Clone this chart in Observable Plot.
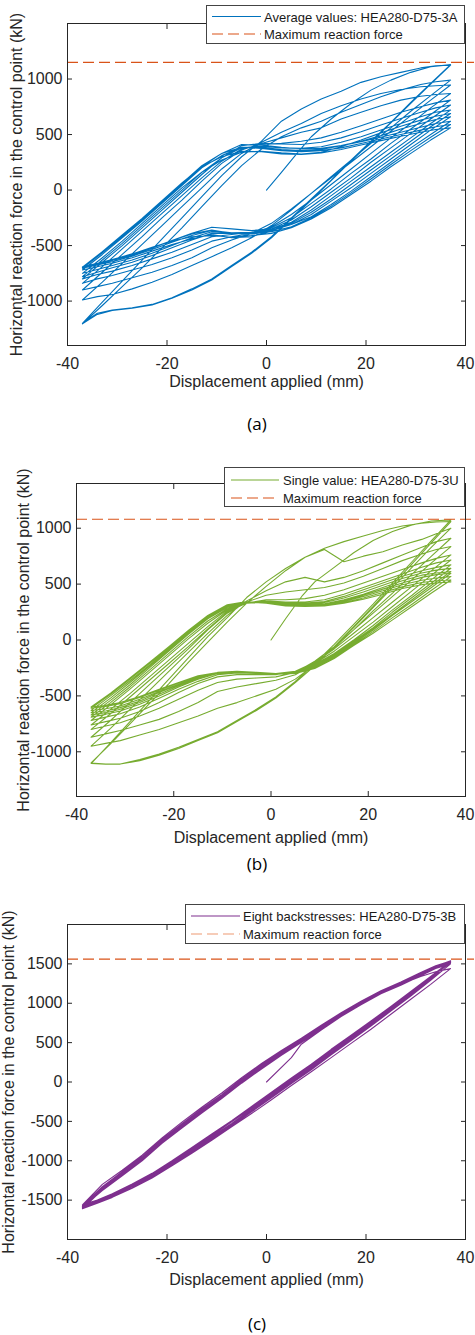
<!DOCTYPE html>
<html><head><meta charset="utf-8">
<script src="https://cdn.jsdelivr.net/npm/d3@7"></script>
<script src="https://cdn.jsdelivr.net/npm/@observablehq/plot@0.6"></script>
<style>
body{margin:0;background:#fff;}
#fig{position:relative;width:475px;height:1335px;overflow:hidden;background:#fff;}
.panel{position:absolute;left:0;}
.legend{position:absolute;background:#fff;border:1px solid #444;box-sizing:border-box;font:13px "Liberation Sans",Arial,sans-serif;color:#1a1a1a;}
.legend span{position:absolute;white-space:nowrap;transform:translateY(-50%);}
.legend svg{position:absolute;left:0;top:0;}
.cap{position:absolute;font:17px "Open Sans",sans-serif;color:#000;transform:translate(-50%,-50%);white-space:nowrap;}
</style></head><body><div id="fig"></div>
<script>
// ---------------- shared tick / axis data ----------------
const xTicks = [-40, -20, 0, 20, 40];
const yTicksAB = [-1000, -500, 0, 500, 1000];
const yTicksC = [-1500, -1000, -500, 0, 500, 1000, 1500];
const xLabel = "Displacement applied (mm)";
const yLabel = "Horizontal reaction force in the control point (kN)";
const maxLabel = "Maximum reaction force";

// displacement stations of loading (increasing) and unloading (decreasing) branches
const xUp = [-37, -33, -29, -25, -21, -17, -13, -9, -5, -1, 3, 7, 11, 15, 19, 23, 27, 31, 34, 37];
const xDown = [37, 33, 29, 25, 21, 17, 13, 9, 5, 1, -3, -7, -11, -15, -19, -23, -27, -31, -34, -37];

// ---------------- (a) Average values: HEA280-D75-3A ----------------
const aName = "Average values: HEA280-D75-3A";
const aMax = 1150;
const aStartX = [0, 3, 6.5, 9, 13, 17, 21, 25, 29, 33, 37];
const aStartY = [0, 160, 350, 480, 640, 780, 900, 990, 1060, 1110, 1130];
const aDown = [
  [1130, 960, 790, 610, 440, 270, 90, -80, -250, -420, -560, -680, -800, -890, -970, -1030, -1060, -1080, -1110, -1200],
  [1125, 955, 780, 605, 430, 260, 85, -90, -260, -430, -570, -690, -810, -900, -975, -1035, -1065, -1085, -1120, -1205],
  [990, 850, 710, 560, 420, 270, 120, -30, -180, -320, -430, -520, -600, -680, -760, -830, -890, -940, -960, -990],
  [946, 810, 670, 530, 390, 250, 110, -30, -170, -300, -390, -450, -520, -610, -680, -740, -790, -840, -870, -900],
  [870, 740, 600, 470, 330, 190, 50, -90, -220, -330, -390, -420, -460, -540, -610, -670, -720, -770, -800, -840],
  [810, 680, 550, 420, 280, 150, 10, -120, -250, -340, -380, -400, -420, -490, -560, -620, -680, -730, -760, -800],
  [766, 640, 510, 380, 250, 110, -20, -150, -270, -350, -380, -390, -390, -450, -520, -590, -650, -700, -740, -780],
  [720, 600, 470, 340, 210, 80, -50, -180, -290, -355, -380, -385, -375, -430, -500, -570, -630, -680, -715, -750],
  [690, 570, 440, 310, 180, 50, -80, -200, -300, -370, -420, -430, -400, -440, -490, -550, -610, -660, -690, -720],
  [660, 540, 410, 280, 150, 20, -100, -220, -310, -365, -390, -385, -365, -410, -470, -535, -595, -645, -675, -705],
  [620, 500, 380, 250, 120, -10, -130, -240, -310, -350, -365, -350, -335, -390, -455, -525, -585, -635, -670, -700],
  [590, 475, 355, 230, 100, -25, -145, -250, -330, -375, -395, -390, -360, -395, -455, -520, -580, -630, -665, -695],
  [560, 450, 330, 210, 80, -40, -160, -260, -340, -390, -410, -425, -410, -420, -460, -515, -575, -625, -660, -690]
];
const aUp = [
  [-1200, -1010, -820, -630, -440, -250, -60, 130, 300, 440, 620, 730, 820, 890, 970, 1020, 1060, 1100, 1120, 1125],
  [-1205, -1040, -870, -700, -520, -340, -150, 40, 220, 370, 480, 560, 620, 700, 770, 840, 900, 950, 975, 990],
  [-990, -830, -660, -490, -320, -150, 20, 190, 330, 430, 520, 600, 690, 760, 820, 870, 905, 930, 940, 946],
  [-900, -740, -580, -420, -250, -90, 80, 240, 360, 420, 470, 520, 560, 640, 700, 760, 810, 845, 860, 870],
  [-840, -690, -530, -370, -210, -50, 110, 260, 370, 410, 420, 440, 470, 520, 580, 640, 700, 750, 785, 810],
  [-800, -650, -500, -340, -180, -20, 140, 290, 400, 420, 415, 410, 430, 470, 525, 585, 645, 700, 740, 766],
  [-780, -630, -480, -320, -160, 0, 160, 290, 380, 395, 380, 375, 390, 430, 480, 540, 600, 660, 700, 720],
  [-750, -610, -460, -300, -140, 20, 160, 270, 340, 350, 335, 325, 340, 390, 450, 515, 575, 630, 665, 690],
  [-720, -580, -430, -280, -120, 40, 200, 310, 385, 385, 365, 355, 365, 400, 440, 490, 550, 600, 635, 660],
  [-705, -565, -420, -270, -110, 50, 210, 330, 410, 405, 385, 370, 375, 400, 435, 475, 520, 565, 600, 620],
  [-700, -560, -410, -260, -100, 60, 220, 330, 385, 375, 355, 345, 355, 380, 420, 460, 500, 540, 570, 590],
  [-695, -555, -405, -255, -95, 65, 210, 300, 350, 345, 325, 320, 335, 365, 405, 445, 485, 520, 545, 560]
];

// ---------------- (b) Single value: HEA280-D75-3U ----------------
const bName = "Single value: HEA280-D75-3U";
const bMax = 1080;
const bStartX = [0, 3, 6.5, 9, 13, 17, 21, 25, 29, 33, 37];
const bStartY = [0, 190, 400, 520, 650, 780, 890, 970, 1030, 1065, 1075];
const bDown = [
  [1075, 890, 700, 510, 320, 140, -40, -210, -370, -510, -620, -720, -820, -890, -960, -1020, -1070, -1110, -1110, -1105],
  [1060, 870, 680, 490, 300, 120, -60, -230, -380, -520, -630, -730, -830, -900, -970, -1030, -1080, -1110, -1110, -1100],
  [1000, 830, 650, 470, 290, 110, -60, -220, -350, -440, -500, -560, -610, -680, -740, -800, -850, -900, -925, -950],
  [910, 750, 590, 420, 260, 90, -70, -210, -310, -360, -390, -420, -460, -560, -640, -710, -760, -810, -840, -870],
  [836, 690, 540, 390, 240, 90, -60, -190, -290, -330, -340, -350, -380, -450, -530, -610, -680, -740, -770, -800],
  [761, 620, 480, 340, 200, 60, -80, -200, -280, -310, -310, -310, -330, -390, -470, -560, -640, -700, -730, -760],
  [716, 580, 440, 300, 160, 30, -100, -210, -280, -300, -300, -295, -310, -370, -440, -520, -600, -660, -690, -720],
  [672, 540, 400, 270, 130, 0, -120, -220, -280, -300, -295, -290, -300, -350, -420, -500, -575, -635, -665, -690],
  [642, 510, 380, 250, 110, -10, -130, -230, -285, -300, -290, -285, -295, -340, -410, -485, -560, -620, -650, -670],
  [612, 490, 360, 230, 100, -20, -140, -240, -290, -300, -290, -280, -290, -335, -400, -470, -545, -605, -635, -650],
  [597, 470, 345, 220, 90, -30, -150, -245, -295, -305, -295, -285, -290, -330, -395, -460, -530, -590, -615, -630],
  [567, 445, 320, 200, 75, -40, -155, -250, -295, -305, -295, -285, -290, -325, -385, -450, -515, -570, -595, -610],
  [537, 420, 300, 180, 60, -50, -165, -255, -300, -305, -295, -285, -290, -320, -380, -440, -505, -560, -585, -600]
];
const bUp = [
  [-1105, -920, -730, -540, -350, -160, 30, 200, 380, 520, 640, 740, 820, 880, 930, 980, 1020, 1045, 1055, 1060],
  [-1100, -930, -750, -570, -390, -200, -20, 160, 330, 480, 620, 740, 810, 700, 750, 790, 850, 900, 950, 1000],
  [-950, -790, -620, -450, -280, -110, 60, 220, 350, 440, 520, 560, 520, 560, 620, 690, 760, 830, 880, 910],
  [-870, -720, -560, -400, -240, -80, 90, 240, 340, 400, 430, 450, 470, 510, 570, 640, 710, 770, 810, 836],
  [-800, -660, -510, -360, -210, -60, 100, 250, 330, 360, 360, 370, 400, 450, 510, 570, 630, 690, 730, 761],
  [-760, -620, -480, -330, -180, -30, 120, 260, 330, 350, 340, 340, 360, 410, 470, 530, 590, 650, 690, 716],
  [-720, -580, -440, -290, -140, 10, 150, 270, 330, 340, 330, 330, 345, 390, 450, 510, 570, 620, 650, 672],
  [-690, -560, -420, -270, -120, 30, 170, 280, 335, 340, 325, 320, 335, 375, 430, 490, 550, 600, 625, 642],
  [-670, -540, -400, -250, -100, 50, 190, 290, 335, 335, 320, 315, 325, 360, 410, 470, 530, 580, 600, 612],
  [-650, -520, -380, -235, -90, 60, 200, 300, 340, 335, 315, 310, 320, 350, 400, 455, 510, 560, 585, 597],
  [-630, -500, -365, -225, -80, 70, 210, 305, 340, 330, 310, 305, 315, 345, 390, 440, 495, 535, 555, 567],
  [-610, -485, -350, -210, -70, 80, 215, 310, 340, 330, 305, 300, 310, 335, 375, 425, 475, 515, 530, 537],
  [-600, -475, -340, -200, -60, 85, 220, 315, 345, 330, 305, 300, 305, 330, 365, 410, 460, 495, 510, 520]
];

// ---------------- (c) Eight backstresses: HEA280-D75-3B ----------------
const cName = "Eight backstresses: HEA280-D75-3B";
const cMax = 1560;
const cStartX = [0, 5, 7, 11, 15, 19, 23, 27, 31, 34, 37];
const cStartY = [0, 310, 480, 660, 830, 980, 1120, 1230, 1350, 1440, 1500];
const cDown = [
  [1500, 1290, 1090, 900, 710, 525, 345, 155, -20, -200, -380, -560, -730, -900, -1065, -1220, -1345, -1460, -1530, -1590],
  [1530, 1300, 1100, 910, 720, 540, 360, 170, -5, -185, -365, -545, -715, -885, -1055, -1215, -1345, -1460, -1535, -1600],
  [1535, 1340, 1150, 960, 775, 595, 415, 225, 50, -130, -310, -490, -660, -830, -1000, -1160, -1295, -1420, -1505, -1580],
  [1530, 1335, 1145, 955, 765, 585, 405, 215, 40, -140, -320, -500, -670, -840, -1010, -1170, -1300, -1425, -1505, -1570],
  [1540, 1310, 1105, 915, 725, 540, 360, 170, -10, -190, -370, -550, -720, -890, -1060, -1220, -1350, -1465, -1540, -1610],
  [1520, 1330, 1140, 950, 760, 580, 400, 210, 35, -145, -325, -500, -670, -840, -1010, -1165, -1295, -1420, -1500, -1560],
  [1535, 1320, 1120, 930, 740, 560, 380, 190, 15, -165, -345, -525, -695, -865, -1035, -1195, -1325, -1445, -1525, -1590],
  [1525, 1305, 1105, 915, 725, 545, 365, 175, 0, -180, -360, -540, -710, -880, -1050, -1210, -1340, -1455, -1535, -1600],
  [1515, 1325, 1135, 945, 755, 575, 395, 205, 30, -150, -330, -505, -675, -845, -1015, -1175, -1305, -1430, -1510, -1575],
  [1530, 1330, 1140, 950, 760, 580, 400, 210, 35, -145, -325, -505, -680, -850, -1020, -1180, -1310, -1435, -1515, -1585],
  [1440, 1240, 1050, 860, 670, 490, 310, 130, -45, -225, -400, -570, -740, -905, -1065, -1215, -1340, -1450, -1525, -1580]
];
const cUp = [
  [-1590, -1380, -1190, -1000, -780, -585, -395, -210, -15, 165, 340, 500, 665, 830, 980, 1120, 1235, 1365, 1455, 1530],
  [-1600, -1360, -1170, -980, -760, -565, -375, -190, 5, 185, 355, 515, 680, 845, 995, 1135, 1250, 1375, 1465, 1535],
  [-1580, -1340, -1150, -960, -740, -545, -355, -170, 25, 205, 375, 530, 695, 860, 1005, 1145, 1255, 1380, 1465, 1530],
  [-1570, -1330, -1140, -950, -725, -530, -340, -160, 40, 220, 385, 540, 705, 865, 1010, 1150, 1260, 1385, 1470, 1540],
  [-1610, -1370, -1175, -985, -765, -570, -380, -195, 0, 180, 350, 510, 675, 840, 990, 1130, 1245, 1370, 1455, 1520],
  [-1560, -1300, -1120, -930, -710, -510, -320, -140, 55, 235, 400, 555, 720, 880, 1025, 1160, 1270, 1390, 1475, 1535],
  [-1590, -1350, -1160, -970, -745, -550, -360, -180, 20, 200, 370, 525, 690, 855, 1000, 1140, 1250, 1375, 1460, 1525],
  [-1600, -1365, -1180, -990, -770, -575, -385, -200, -5, 175, 345, 505, 670, 835, 985, 1125, 1240, 1370, 1450, 1515],
  [-1575, -1340, -1150, -960, -735, -540, -350, -165, 30, 210, 380, 535, 700, 860, 1005, 1145, 1255, 1380, 1465, 1530],
  [-1585, -1355, -1165, -975, -750, -555, -365, -185, 15, 195, 365, 520, 685, 850, 995, 1135, 1240, 1340, 1400, 1440]
];

// ---------------- build the load path (start, then alternating unloading / reloading) ----------------
function path(startX, startY, downs, ups) {
  const pts = startX.map((x, i) => ({x, y: startY[i]}));
  const n = Math.max(downs.length, ups.length);
  for (let i = 0; i < n; i++) {
    if (downs[i]) xDown.forEach((x, j) => pts.push({x, y: downs[i][j]}));
    if (ups[i]) xUp.forEach((x, j) => pts.push({x, y: ups[i][j]}));
  }
  return pts;
}

const fig = document.getElementById("fig");
const FONT = '"Liberation Sans", Arial, Helvetica, sans-serif';
const TXT = "#262626";
const ORANGE = "#D95319";

function drawPanel(cfg) {
  const chart = Plot.plot({
    width: 475, height: cfg.height,
    marginTop: cfg.marginTop, marginLeft: cfg.marginLeft, marginRight: 10, marginBottom: cfg.marginBottom,
    style: {fontFamily: FONT, fontSize: "16px", color: TXT, background: "transparent", overflow: "visible"},
    x: {domain: [-40, 40]},
    y: {domain: cfg.yDomain},
    marks: [
      Plot.line(cfg.data, {x: "x", y: "y", stroke: cfg.color, strokeWidth: 1.1, clip: true}),
      Plot.ruleY([cfg.max], {stroke: ORANGE, strokeWidth: 1.1, strokeDasharray: "11,5", insetRight: -9}),
      Plot.frame({stroke: TXT, strokeWidth: 1}),
      Plot.axisX(xTicks, {anchor: "bottom", tickSize: -5, tickPadding: 17, tickFormat: d => String(d), label: null, fontSize: 16, stroke: TXT}),
      Plot.axisX(xTicks, {anchor: "top", tickSize: -5, tickFormat: () => "", label: null, stroke: TXT}),
      Plot.axisY(cfg.yTicks, {anchor: "left", tickSize: -5, tickPadding: 10, tickFormat: d => String(d), label: null, fontSize: 16, stroke: TXT}),
      Plot.axisY(cfg.yTicks, {anchor: "right", tickSize: -5, tickFormat: () => "", label: null, stroke: TXT}),
      Plot.text([xLabel], {frameAnchor: "bottom", dy: cfg.xLabelDy, lineAnchor: "middle", fontSize: 16, fill: TXT}),
      Plot.text([yLabel], {frameAnchor: "left", rotate: -90, dx: cfg.yLabelDx, lineAnchor: "middle", textAnchor: "middle", fontSize: 16, fill: TXT})
    ]
  });
  const wrap = document.createElement("div");
  wrap.className = "panel";
  wrap.style.top = cfg.top + "px";
  wrap.appendChild(chart);
  fig.appendChild(wrap);

  // legend box (MATLAB-like, overlapping the top of the axes)
  const L = cfg.legend;
  const lg = document.createElement("div");
  lg.className = "legend";
  Object.assign(lg.style, {left: L.left + "px", top: L.top + "px", width: L.width + "px", height: L.height + "px"});
  const ns = "http://www.w3.org/2000/svg";
  const sv = document.createElementNS(ns, "svg");
  sv.setAttribute("width", L.width); sv.setAttribute("height", L.height);
  [[L.row1, cfg.color, null], [L.row2, cfg.dashColor, "11,5"]].forEach(([yy, col, dash]) => {
    const ln = document.createElementNS(ns, "line");
    ln.setAttribute("x1", L.s0); ln.setAttribute("x2", L.s1);
    ln.setAttribute("y1", yy); ln.setAttribute("y2", yy);
    ln.setAttribute("stroke", col); ln.setAttribute("stroke-width", 1.2);
    if (dash) ln.setAttribute("stroke-dasharray", dash);
    sv.appendChild(ln);
  });
  lg.appendChild(sv);
  [[L.row1, cfg.name], [L.row2, maxLabel]].forEach(([yy, t]) => {
    const s = document.createElement("span");
    s.textContent = t;
    s.style.left = L.tx + "px"; s.style.top = yy + "px";
    lg.appendChild(s);
  });
  fig.appendChild(lg);

  const cap = document.createElement("div");
  cap.className = "cap";
  cap.textContent = cfg.caption;
  cap.style.left = cfg.capX + "px"; cap.style.top = cfg.capY + "px";
  fig.appendChild(cap);
}

drawPanel({
  data: path(aStartX, aStartY, aDown, aUp), color: "#0072BD", dashColor: ORANGE, name: aName, max: aMax,
  top: 0, height: 395, marginTop: 23, marginLeft: 67, marginBottom: 50,
  yDomain: [-1400, 1500], yTicks: yTicksAB, xLabelDy: 36, yLabelDx: -51,
  legend: {left: 206, top: 5, width: 259, height: 39, row1: 10.5, row2: 28, s0: 5, s1: 54, tx: 57},
  caption: "(a)", capX: 257, capY: 423
});
drawPanel({
  data: path(bStartX, bStartY, bDown, bUp), color: "#77AC30", dashColor: ORANGE, name: bName, max: bMax,
  top: 440, height: 406, marginTop: 43, marginLeft: 76, marginBottom: 50,
  yDomain: [-1400, 1400], yTicks: yTicksAB, xLabelDy: 41, yLabelDx: -53,
  legend: {left: 224, top: 467, width: 241, height: 40, row1: 12, row2: 30, s0: 6, s1: 54, tx: 58},
  caption: "(b)", capX: 257, capY: 863
});
drawPanel({
  data: path(cStartX, cStartY, cDown, cUp), color: "#7E2F8E", dashColor: "#EE9A72", name: cName, max: cMax,
  top: 880, height: 409, marginTop: 44, marginLeft: 67, marginBottom: 50,
  yDomain: [-2000, 2000], yTicks: yTicksC, xLabelDy: 40, yLabelDx: -59,
  legend: {left: 185, top: 904, width: 280, height: 40, row1: 11, row2: 29, s0: 5, s1: 54, tx: 57},
  caption: "(c)", capX: 257, capY: 1323
});
</script></body></html>
